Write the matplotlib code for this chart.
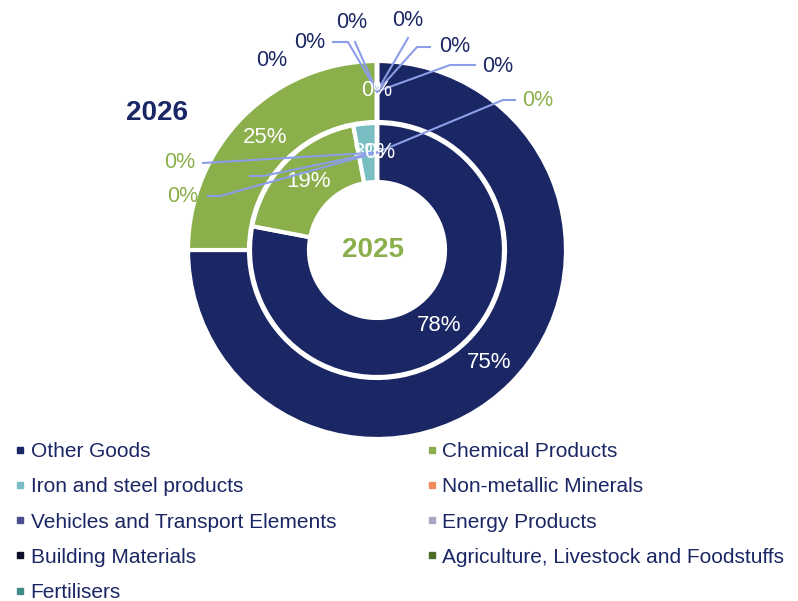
import numpy as np
import matplotlib.pyplot as plt
from matplotlib.lines import Line2D

plt.rcParams['font.family'] = ['Liberation Sans', 'DejaVu Sans']

categories = ['Other Goods', 'Chemical Products', 'Iron and steel products',
              'Non-metallic Minerals', 'Vehicles and Transport Elements',
              'Energy Products', 'Building Materials',
              'Agriculture, Livestock and Foodstuffs', 'Fertilisers']
share_2025 = [78, 19, 3, 0, 0, 0, 0, 0, 0]
share_2026 = [75, 25, 0, 0, 0, 0, 0, 0, 0]
colors = ['#1B2664', '#8AAF4B', '#78BEC3', '#F08C5A', '#4A4E8E',
          '#A4A8C4', '#0D0D2A', '#4E6B2A', '#3E8C84']

NAVY = '#1B2664'
GREEN = '#8AAF4B'
LEADER = '#8C9EE8'
H = 601  # figure height in px, used to flip image-style y coords


def img(x, y):
    return (x, H - y)


# placement of the zero-value labels (image coords), and leader line points
outer_zero_labels = [((377, 90), 'white', []),
                     ((272, 60), NAVY, []),
                     ((310, 42), NAVY, [(333, 42), (348, 42)]),
                     ((352, 22), NAVY, [(355, 42)]),
                     ((408, 20), NAVY, [(408, 38)]),
                     ((455, 46), NAVY, [(430, 47), (417, 47)]),
                     ((498, 67), NAVY, [(475, 65), (450, 65)])]
inner_zero_labels = [((380, 153), 'white', []),
                     ((538, 100), GREEN, [(515, 100), (503, 100)]),
                     ((180, 162), GREEN, [(203, 163)]),
                     ((183, 197), GREEN, [(208, 196), (220, 196)]),
                     (None, GREEN, [(250, 176), (263, 176)]),
                     (None, GREEN, [])]

fig = plt.figure(figsize=(7.98, 6.01), dpi=100)
ax = fig.add_axes([0, 0, 1, 1])

center = img(377, 250)
rings = [(share_2026, 189, 61, outer_zero_labels),
         (share_2025, 127, 59, inner_zero_labels)]

for values, radius, width, zero_labels in rings:
    wedges, _ = ax.pie(values, radius=radius, center=center, colors=colors,
                       startangle=90, counterclock=False,
                       wedgeprops=dict(width=width, edgecolor='white', linewidth=3))
    r_mid = radius - width / 2
    zi = 0
    for w, v in zip(wedges, values):
        ang = np.deg2rad((w.theta1 + w.theta2) / 2)
        px = center[0] + r_mid * np.cos(ang)
        py = center[1] + r_mid * np.sin(ang)
        if v > 0:
            ax.text(px, py, f'{v}%', color='white', fontsize=16,
                    ha='center', va='center')
            continue
        pos, col, path = zero_labels[zi]
        zi += 1
        if path:
            pts = [img(*p) for p in path] + [(px, py)]
            ax.plot([p[0] for p in pts], [p[1] for p in pts],
                    color=LEADER, lw=1.5, zorder=3)
        if pos is not None:
            ax.text(*img(*pos), f'{v}%', color=col, fontsize=15.5,
                    ha='center', va='center', zorder=4)

ax.text(*img(157, 113), '2026', color=NAVY, fontsize=20, fontweight='bold',
        ha='center', va='center')
ax.text(*img(373, 250), '2025', color=GREEN, fontsize=20, fontweight='bold',
        ha='center', va='center')

ax.set_xlim(0, 798)
ax.set_ylim(0, H)
ax.set_aspect('equal')
ax.set_axis_off()

order = [0, 2, 4, 6, 8, 1, 3, 5, 7]
handles = [Line2D([], [], marker='s', linestyle='none', markersize=4.5,
                  color=colors[i]) for i in order]
labels = [categories[i] for i in order]
fig.legend(handles, labels, ncol=2, loc='upper left',
           bbox_to_anchor=(15 / 798, 1 - 442 / H), frameon=False,
           fontsize=15, labelcolor=NAVY, handlelength=0.5, handletextpad=0.25,
           labelspacing=0.78, columnspacing=4.35, borderpad=0, borderaxespad=0)

fig.savefig('out.png', dpi=100)
